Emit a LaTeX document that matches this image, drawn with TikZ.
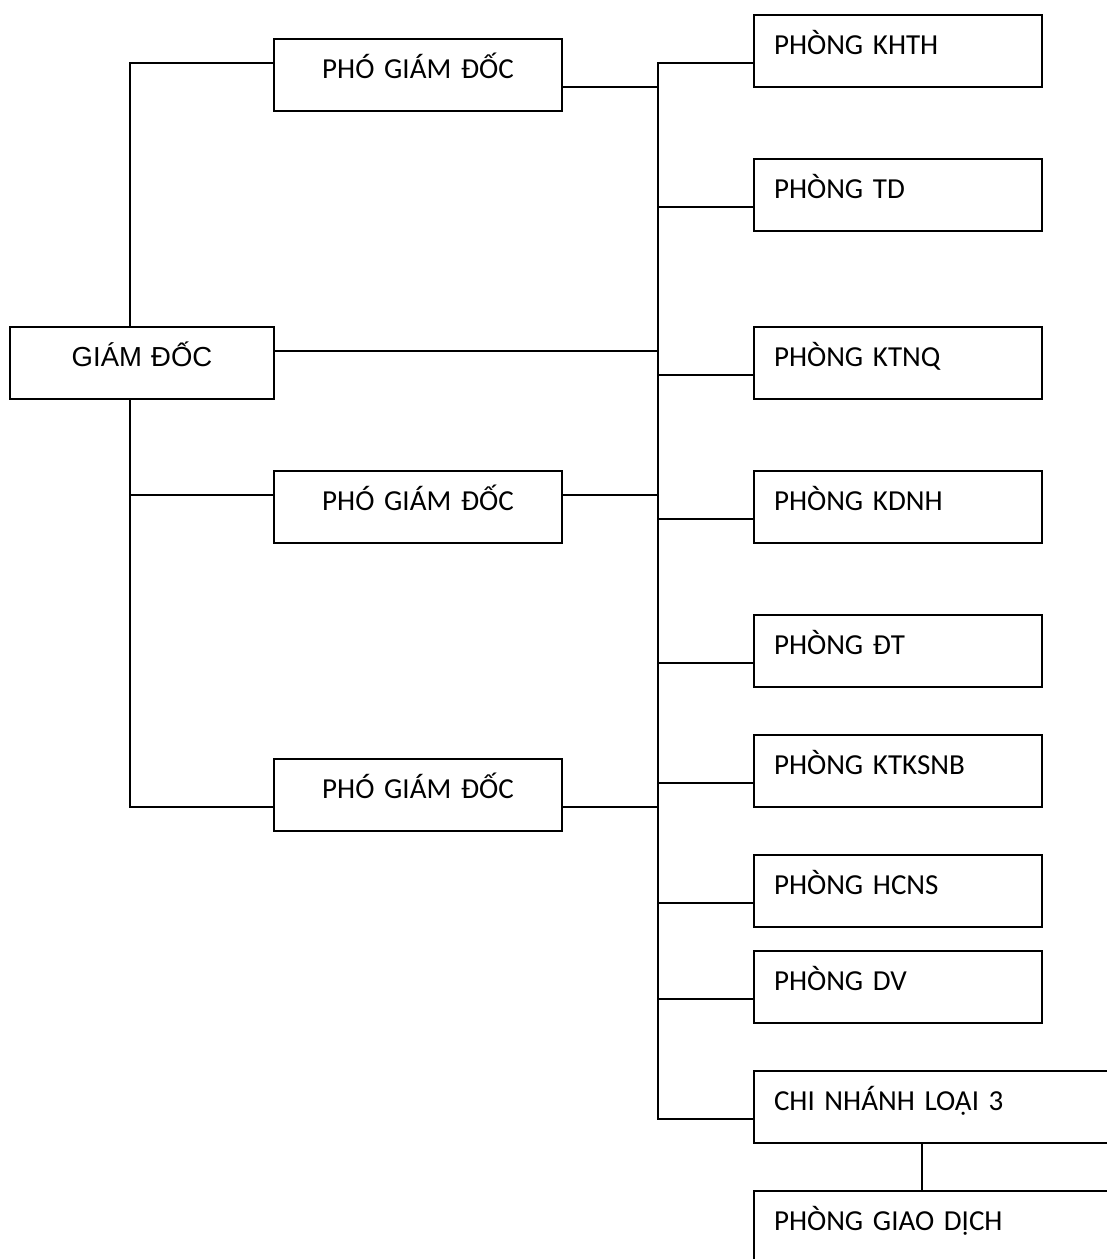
\documentclass[tikz,border=0pt]{standalone}
\usepackage{fontspec}
\setmainfont{Carlito}
\newfontfamily\arialf{Liberation Sans}
\begin{document}
\begin{tikzpicture}[x=1pt,y=-1pt,
  conn/.style={line width=2pt},
  box/.style={draw, line width=2pt, rectangle, outer sep=0pt, inner xsep=20pt, inner ysep=0pt,
    minimum height=72pt, text width=248pt, font=\fontsize{29}{34}\selectfont,
    text height=20pt, text depth=14pt, anchor=north west},
  rbox/.style={box, align=left},
  cbox/.style={box, align=center}]
\clip (0,0) rectangle (1107,1259);
\fill[white] (0,0) rectangle (1107,1259);
% left column
\node[cbox, text width=224pt, font=\arialf\fontsize{27.5}{33}\selectfont] (gd) at (10,327) {GIÁM ĐỐC};
\node[cbox] (p1) at (274,39) {PHÓ GIÁM ĐỐC};
\node[cbox] (p2) at (274,471) {PHÓ GIÁM ĐỐC};
\node[cbox] (p3) at (274,759) {PHÓ GIÁM ĐỐC};
% right column
\node[rbox] (r1) at (754,15) {PHÒNG KHTH};
\node[rbox] (r2) at (754,159) {PHÒNG TD};
\node[rbox] (r3) at (754,327) {PHÒNG KTNQ};
\node[rbox] (r4) at (754,471) {PHÒNG KDNH};
\node[rbox] (r5) at (754,615) {PHÒNG ĐT};
\node[rbox] (r6) at (754,735) {PHÒNG KTKSNB};
\node[rbox] (r7) at (754,855) {PHÒNG HCNS};
\node[rbox] (r8) at (754,951) {PHÒNG DV};
\node[rbox, text width=360pt] (cn) at (754,1071) {CHI NHÁNH LOẠI 3};
\node[rbox, text width=360pt] (gdc) at (754,1191) {PHÒNG GIAO DỊCH};
% coordinates
\coordinate (lt) at (130,63);
\coordinate (l2) at (130,495);
\coordinate (lb) at (130,807);
\coordinate (bt) at (658,63);
\coordinate (bb) at (658,1119);
\coordinate (b2) at (658,207);
\coordinate (b3) at (658,375);
\coordinate (b4) at (658,519);
\coordinate (b5) at (658,663);
\coordinate (b6) at (658,783);
\coordinate (b7) at (658,903);
\coordinate (b8) at (658,999);
\coordinate (m0) at (658,351);
\coordinate (m1) at (658,87);
\coordinate (m2) at (658,495);
\coordinate (m3) at (658,807);
\coordinate (cx) at (922,0);
% left connectors
\draw[conn] (gd.north -| lt) -- (lt) -- (lt -| p1.west);
\draw[conn] (gd.south -| lt) -- (lb) -- (lb -| p3.west);
\draw[conn] (l2) -- (l2 -| p2.west);
% middle connectors
\draw[conn] (m0 -| gd.east) -- (m0);
\draw[conn] (m1 -| p1.east) -- (m1);
\draw[conn] (m2 -| p2.east) -- (m2);
\draw[conn] (m3 -| p3.east) -- (m3);
% bus
\draw[conn] (bt -| r1.west) -- (bt) -- (bb) -- (bb -| cn.west);
\draw[conn] (b2) -- (b2 -| r2.west);
\draw[conn] (b3) -- (b3 -| r3.west);
\draw[conn] (b4) -- (b4 -| r4.west);
\draw[conn] (b5) -- (b5 -| r5.west);
\draw[conn] (b6) -- (b6 -| r6.west);
\draw[conn] (b7) -- (b7 -| r7.west);
\draw[conn] (b8) -- (b8 -| r8.west);
\draw[conn] (cn.south -| cx) -- (gdc.north -| cx);
\end{tikzpicture}
\end{document}
